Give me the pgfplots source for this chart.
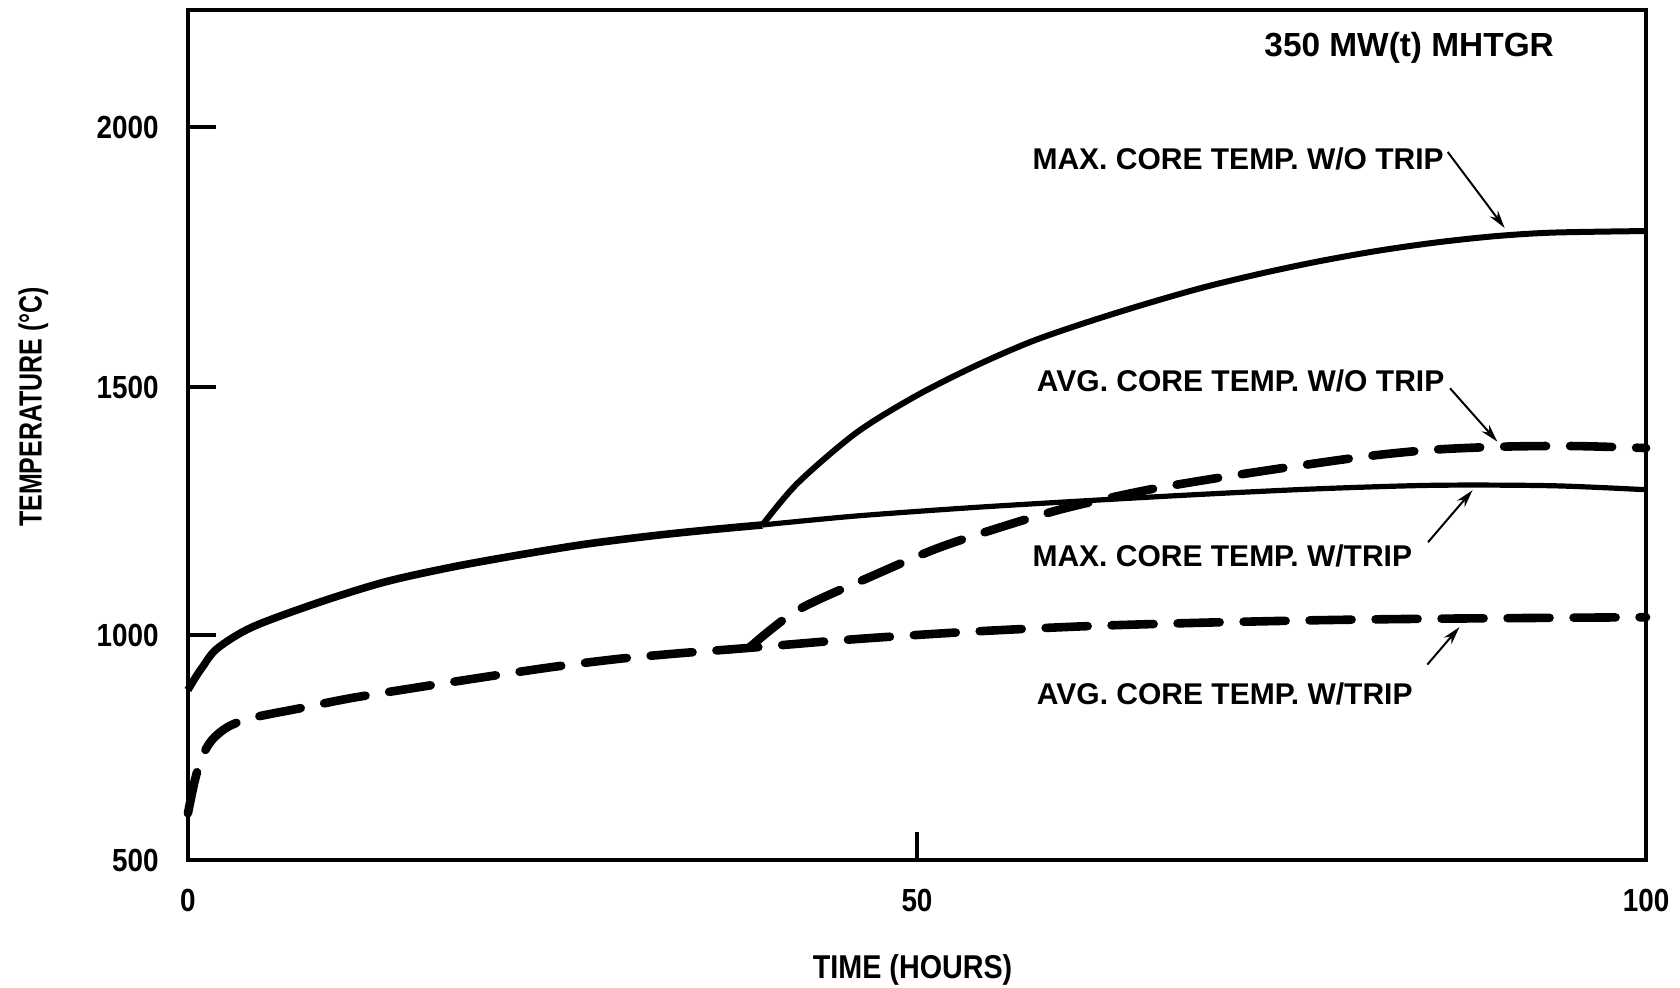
\documentclass[border=0pt]{standalone}
\usepackage{pgfplots}
\pgfplotsset{compat=1.18}
\usepackage{pgfplotstable}
\usepackage{fontspec}
\usetikzlibrary{arrows.meta}
\setmainfont{Liberation Sans}
\newfontfamily\condfont{Liberation Sans}[FakeStretch=0.87]
\newfontfamily\narrowfont{Liberation Sans}[FakeStretch=0.78]

% Maximum core temperature with reactor trip (time in h, temperature in deg C)
\pgfplotstableread{
t T
0 878
0.5 905
1.0 929
2.0 970
4.4 1016
8.9 1065
13.5 1107
18.1 1137
22.6 1161
27.2 1183
31.8 1200
35.7 1212
39.4 1222
45.8 1240
53.8 1257
61.7 1271
69.7 1284
77.6 1295
85.6 1302
93.6 1301
100 1293
}\maxtrip

% Maximum core temperature without trip
\pgfplotstableread{
t T
39.4 1222
41.8 1306
45.8 1407
49.8 1480
53.8 1538
57.8 1587
61.7 1625
65.7 1660
69.7 1692
73.7 1719
77.6 1742
81.6 1762
85.6 1778
89.6 1790
93.6 1797
100 1800
}\maxnotrip

% Average core temperature with trip
\pgfplotstableread{
t T
0 604
0.48 678
0.96 729
1.65 767
2.74 796
4.39 816
7.8 838
11.2 860
15.8 884
20.4 907
25.0 929
29.5 947
33.5 959
37.9 970
45.8 991
53.8 1007
61.7 1018
69.7 1025
77.6 1030
85.6 1033
100 1036
}\avgtrip

% Average core temperature without trip
\pgfplotstableread{
t T
38.5 972
41.8 1050
47.0 1120
51.4 1175
55.8 1218
60.2 1256
65.7 1292
70.9 1318
76.1 1341
81.3 1362
85.6 1374
90.4 1380
95.2 1381
100 1377
}\avgnotrip

\begin{document}
\begin{tikzpicture}
\begin{axis}[
  scale only axis,
  width=729pt, height=425pt,
  xmin=0, xmax=100, ymin=500, ymax=2225,
  % the temperature scale is drawn piecewise linear between its ticks
  y coord trafo/.code={\pgfmathparse{(#1<=1000) ? ((#1-500)*0.45) : ((#1<=1500) ? (225+(#1-1000)*0.496) : (473+(#1-1500)*0.52))}},
  y coord inv trafo/.code={\pgfmathparse{(#1<=225) ? (500+#1/0.45) : ((#1<=473) ? (1000+(#1-225)/0.496) : (1500+(#1-473)/0.52))}},
  xtick={0,50,100}, xticklabels={0,50,100},
  ytick={500,1000,1500,2000}, yticklabels={500,1000,1500,2000},
  xtick pos=bottom, ytick pos=left,
  tick align=inside,
  major tick length=14pt,
  major tick style={line width=1.6pt, black},
  axis line style={line width=2pt},
  ticklabel style={font=\condfont\bfseries\fontsize{16}{19}\selectfont},
  yticklabel style={anchor=east, inner sep=0pt, xshift=-14.5pt},
  xticklabel style={anchor=north, inner sep=0pt, yshift=-14.2pt},
  /pgf/number format/assume math mode=true,
  clip=false,
]
% invisible frame fixing the page size
\path (rel axis cs:-0.1289,-0.1494) rectangle (rel axis cs:1.0233,1.0118);

\addplot[black, line width=3.8pt, smooth, restrict x to domain=0:39.4] table[x=t,y=T] {\maxtrip};
\addplot[black, line width=2.6pt, smooth, restrict x to domain=39.4:100] table[x=t,y=T] {\maxtrip};
\addplot[black, line width=3pt, smooth] table[x=t,y=T] {\maxnotrip};
\addplot[black, line width=4.3pt, line cap=round, dash pattern=on 21pt off 12pt, smooth] table[x=t,y=T] {\avgtrip};
\addplot[black, line width=4.3pt, line cap=round, dash pattern=on 21pt off 12pt, smooth] table[x=t,y=T] {\avgnotrip};

% annotations
\begin{scope}[every node/.style={font=\bfseries\fontsize{15}{18}\selectfont, anchor=west, inner sep=0pt}]
\node at (rel axis cs:0.579,0.825) {MAX. CORE TEMP. W/O TRIP};
\node at (rel axis cs:0.582,0.5635) {AVG. CORE TEMP. W/O TRIP};
\node at (rel axis cs:0.579,0.358) {MAX. CORE TEMP. W/TRIP};
\node at (rel axis cs:0.582,0.196) {AVG. CORE TEMP. W/TRIP};
\end{scope}
\node[anchor=west, inner sep=0pt, font=\bfseries\fontsize{16.7}{20}\selectfont] at (rel axis cs:0.738,0.956) {350 MW(t) MHTGR};

\begin{scope}[line width=1pt, -{Stealth[length=9pt,width=5pt]}]
\draw (rel axis cs:0.864,0.833) -- (axis cs:90.3,1806);
\draw (rel axis cs:0.8656,0.555) -- (axis cs:89.8,1390);
\draw (rel axis cs:0.8505,0.374) -- (axis cs:88.1,1292);
\draw (rel axis cs:0.85,0.23) -- (axis cs:87.2,1016);
\end{scope}

% axis titles
\node[anchor=center, inner sep=0pt, font=\condfont\bfseries\fontsize{16.5}{19}\selectfont] at (rel axis cs:0.497,-0.129) {TIME (HOURS)};
\node[anchor=center, rotate=90, inner sep=0pt, font=\narrowfont\bfseries\fontsize{16}{19}\selectfont] at (rel axis cs:-0.106,0.533) {TEMPERATURE (°C)};
\end{axis}
\end{tikzpicture}
\end{document}
